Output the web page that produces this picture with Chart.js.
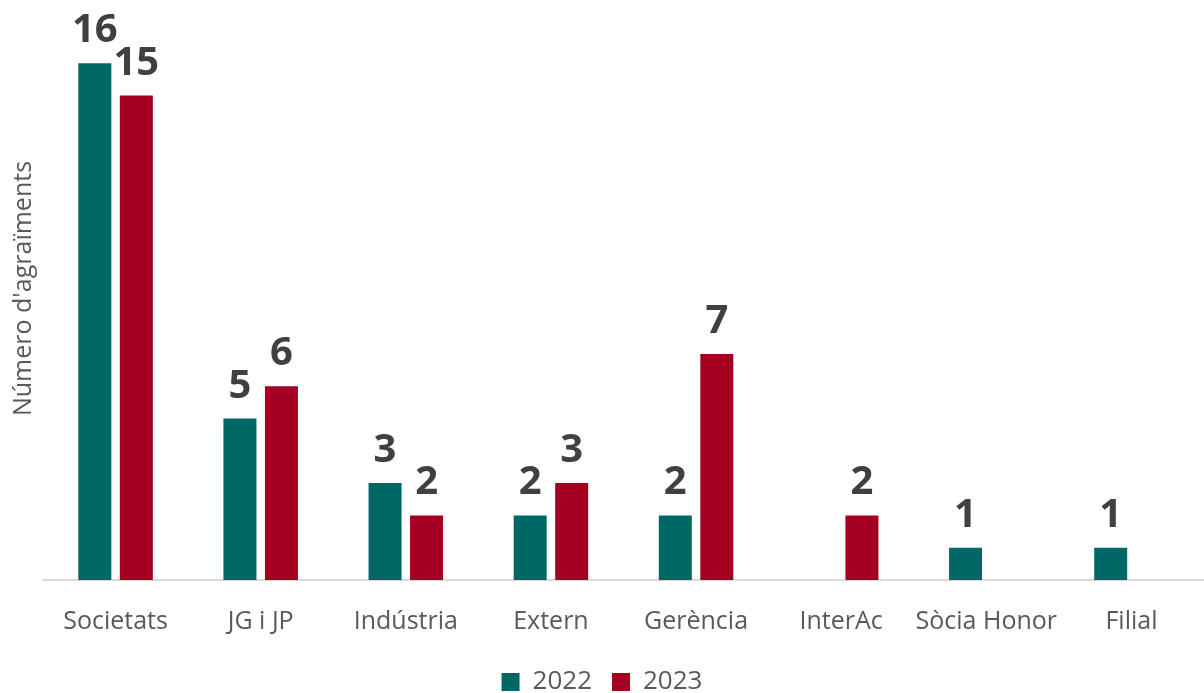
<!DOCTYPE html>
<html>
<head>
<meta charset="utf-8">
<script src="https://cdn.jsdelivr.net/npm/chart.js@4/dist/chart.umd.min.js"></script>
<style>
  html, body { margin: 0; padding: 0; background: #fff; }
  #wrap { width: 1204px; height: 693px; position: relative; }
</style>
</head>
<body>
<div id="wrap"><canvas id="chart"></canvas></div>
<script>
// Data
const categories = ["Societats", "JG i JP", "Indústria", "Extern", "Gerència", "InterAc", "Sòcia Honor", "Filial"];
const values2022 = [16, 5, 3, 2, 2, null, 1, 1];
const values2023 = [15, 6, 2, 3, 7, 2, null, null];
const seriesNames = ["2022", "2023"];
const yTitle = "Número d'agraïments";

const FONT = "'Open Sans', 'Noto Sans', sans-serif";

// value labels above bars
const barLabels = {
  id: "barLabels",
  afterDatasetsDraw(chart) {
    const ctx = chart.ctx;
    ctx.save();
    ctx.font = "bold 40px " + FONT;
    ctx.fillStyle = "#404040";
    ctx.textAlign = "center";
    ctx.textBaseline = "alphabetic";
    chart.data.datasets.forEach((ds, i) => {
      chart.getDatasetMeta(i).data.forEach((bar, j) => {
        const v = ds.data[j];
        if (v === null || v === undefined) return;
        ctx.fillText(String(v), bar.x, bar.y - 21);
      });
    });
    ctx.restore();
  }
};

// rotated y title, sitting a bit above the middle of the plot like the original
const sideTitle = {
  id: "sideTitle",
  afterDraw(chart) {
    const ctx = chart.ctx;
    const a = chart.chartArea;
    ctx.save();
    ctx.translate(24, (a.top + a.bottom) / 2 - 17);
    ctx.rotate(-Math.PI / 2);
    ctx.font = "25px " + FONT;
    ctx.fillStyle = "#595959";
    ctx.textAlign = "center";
    ctx.textBaseline = "middle";
    ctx.fillText(yTitle, 0, 0);
    ctx.restore();
  }
};

new Chart(document.getElementById("chart"), {
  type: "bar",
  data: {
    labels: categories,
    datasets: [
      { label: seriesNames[0], data: values2022, backgroundColor: "#006864" },
      { label: seriesNames[1], data: values2023, backgroundColor: "#A50021" }
    ]
  },
  options: {
    responsive: true,
    maintainAspectRatio: false,
    animation: false,
    layout: { padding: { top: 31, right: 0, left: 0, bottom: -12 } },
    datasets: { bar: { categoryPercentage: 0.572, barPercentage: 0.795 } },
    plugins: {
      legend: {
        position: "bottom",
        labels: {
          boxWidth: 18,
          boxHeight: 18,
          padding: 20,
          color: "#595959",
          font: { family: FONT, size: 26 }
        }
      },
      tooltip: { enabled: false }
    },
    scales: {
      x: {
        grid: { display: false },
        border: { display: true, color: "#d9d9d9", width: 2 },
        ticks: {
          color: "#595959",
          font: { family: FONT, size: 25 },
          padding: 19,
          maxRotation: 0,
          minRotation: 0,
          autoSkip: false
        },
        afterFit(scale) { scale.height -= 7; }
      },
      y: {
        min: 0,
        max: 17,
        grid: { display: false },
        border: { display: false },
        ticks: { display: false },
        afterFit(scale) { scale.width = 43; }
      }
    }
  },
  plugins: [barLabels, sideTitle]
});
</script>
</body>
</html>
